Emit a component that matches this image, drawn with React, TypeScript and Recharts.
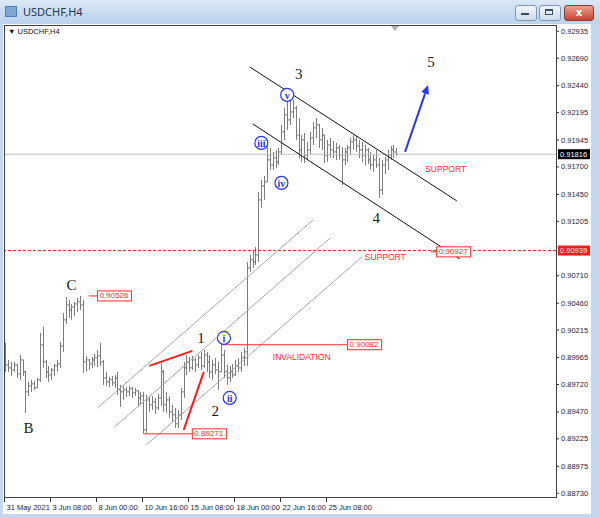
import React from "react";
import { ComposedChart, Bar, XAxis, YAxis, ReferenceLine, ReferenceDot } from "recharts";

// USDCHF H4 bars
const openPrices = [
  0.9008, 0.89898, 0.89871, 0.89853, 0.89898, 0.89816, 0.89944, 0.89835, 0.89653, 0.89707,
  0.89726, 0.89689, 0.89762, 0.9008, 0.89926, 0.89835, 0.89807, 0.89853, 0.89889, 0.89907,
  0.90071, 0.90308, 0.90444, 0.90399, 0.90426, 0.90453, 0.90472, 0.90444, 0.89926, 0.89944,
  0.89907, 0.89944, 0.89962, 0.8998, 0.89926, 0.8978, 0.89744, 0.89762, 0.89735, 0.8978,
  0.89671, 0.89653, 0.89671, 0.89653, 0.8968, 0.89644, 0.89662, 0.89598, 0.89616, 0.89307,
  0.8958, 0.89535, 0.89562, 0.89507, 0.89598, 0.89835, 0.89535, 0.8958, 0.89471, 0.89444,
  0.89362, 0.89444, 0.89653, 0.89871, 0.89926, 0.89871, 0.89944, 0.89898, 0.89962, 0.89889,
  0.89989, 0.89926, 0.89835, 0.89898, 0.89853, 0.89835, 0.89989, 0.89835, 0.8978, 0.89835,
  0.89807, 0.89889, 0.89871, 0.89962, 0.90017, 0.90781, 0.90854, 0.90836, 0.90899, 0.914,
  0.91527, 0.91564, 0.91764, 0.91718, 0.91782, 0.91746, 0.91837, 0.92019, 0.92173, 0.92128,
  0.92201, 0.92237, 0.91991, 0.91855, 0.91946, 0.91809, 0.91855, 0.91964, 0.92055, 0.92082,
  0.91946, 0.91991, 0.91809, 0.919, 0.91855, 0.91837, 0.91873, 0.91809, 0.91764, 0.91837,
  0.91873, 0.91928, 0.91946, 0.91891, 0.91855, 0.91809, 0.91855, 0.91764, 0.91718, 0.91764,
  0.91718, 0.91491, 0.91718, 0.91764, 0.91809, 0.91855, 0.91837,
];
const highPrices = [
  0.90099, 0.89944, 0.89926, 0.89926, 0.89907, 0.89989, 0.89944, 0.89844, 0.89744, 0.89762,
  0.89753, 0.8978, 0.9019, 0.90244, 0.89944, 0.89889, 0.89871, 0.89907, 0.89944, 0.90108,
  0.90372, 0.90517, 0.9049, 0.90453, 0.90472, 0.90508, 0.90526, 0.9049, 0.8998, 0.89953,
  0.89971, 0.89998, 0.90035, 0.90099, 0.89944, 0.89835, 0.89789, 0.89798, 0.89807, 0.89835,
  0.89716, 0.89707, 0.89698, 0.89707, 0.89698, 0.89689, 0.89671, 0.89653, 0.89653, 0.89625,
  0.89607, 0.89616, 0.89598, 0.89634, 0.89917, 0.89853, 0.89653, 0.89616, 0.89535, 0.89507,
  0.89489, 0.89689, 0.89926, 0.89989, 0.89971, 0.8998, 0.89962, 0.89989, 0.90017, 0.90035,
  0.90017, 0.89989, 0.89944, 0.89962, 0.89926, 0.90082, 0.90035, 0.89898, 0.89889, 0.89907,
  0.89944, 0.89962, 0.90017, 0.90053, 0.90836, 0.90899, 0.90945, 0.90972, 0.91473, 0.91582,
  0.91618, 0.91882, 0.91873, 0.91837, 0.91855, 0.91873, 0.92082, 0.92237, 0.92292, 0.92328,
  0.9231, 0.92255, 0.92146, 0.91991, 0.92009, 0.91928, 0.92019, 0.9211, 0.92146, 0.92091,
  0.92055, 0.91991, 0.91946, 0.91964, 0.91937, 0.91918, 0.919, 0.91882, 0.91873, 0.919,
  0.91964, 0.91991, 0.91982, 0.91946, 0.91928, 0.919, 0.91873, 0.91837, 0.91809, 0.91855,
  0.91782, 0.91764, 0.91791, 0.91855, 0.91891, 0.919, 0.91873,
];
const lowPrices = [
  0.89835, 0.89835, 0.89798, 0.89835, 0.8978, 0.89762, 0.89798, 0.89462, 0.89616, 0.89653,
  0.89671, 0.89689, 0.89744, 0.89871, 0.8978, 0.89744, 0.89762, 0.89798, 0.89835, 0.89871,
  0.90017, 0.90271, 0.90326, 0.90308, 0.90344, 0.90381, 0.90399, 0.89826, 0.89835, 0.89853,
  0.89871, 0.89889, 0.8988, 0.89889, 0.89716, 0.89707, 0.89698, 0.89707, 0.89689, 0.89625,
  0.89516, 0.8958, 0.89607, 0.89616, 0.89598, 0.89616, 0.89516, 0.89535, 0.89271, 0.89279,
  0.89471, 0.89489, 0.89453, 0.89489, 0.89526, 0.89471, 0.89462, 0.89416, 0.8938, 0.89325,
  0.89325, 0.89398, 0.89598, 0.89807, 0.89835, 0.89853, 0.89835, 0.89871, 0.89853, 0.89871,
  0.89835, 0.8978, 0.89762, 0.89816, 0.89671, 0.89835, 0.8978, 0.89716, 0.89744, 0.8978,
  0.89798, 0.89835, 0.89835, 0.89889, 0.89889, 0.90745, 0.90781, 0.90808, 0.90836, 0.91327,
  0.914, 0.91564, 0.91673, 0.91673, 0.91691, 0.91718, 0.91809, 0.91946, 0.92037, 0.92082,
  0.92146, 0.91946, 0.91782, 0.91746, 0.91736, 0.91764, 0.91809, 0.919, 0.91964, 0.91873,
  0.91855, 0.91736, 0.91746, 0.91791, 0.91782, 0.91764, 0.91764, 0.91536, 0.91718, 0.91746,
  0.91809, 0.91855, 0.91837, 0.91782, 0.91746, 0.91718, 0.91727, 0.91673, 0.91655, 0.91691,
  0.91418, 0.91445, 0.91636, 0.91673, 0.91764, 0.91782, 0.918,
];
const closePrices = [
  0.89898, 0.89871, 0.89853, 0.89898, 0.89816, 0.89944, 0.89835, 0.89653, 0.89707, 0.89726,
  0.89689, 0.89762, 0.9008, 0.89926, 0.89835, 0.89807, 0.89853, 0.89889, 0.89907, 0.90071,
  0.90308, 0.90444, 0.90399, 0.90426, 0.90453, 0.90472, 0.90444, 0.89926, 0.89944, 0.89907,
  0.89944, 0.89962, 0.8998, 0.89926, 0.8978, 0.89744, 0.89762, 0.89735, 0.8978, 0.89671,
  0.89653, 0.89671, 0.89653, 0.8968, 0.89644, 0.89662, 0.89598, 0.89616, 0.89307, 0.8958,
  0.89535, 0.89562, 0.89507, 0.89598, 0.89835, 0.89535, 0.8958, 0.89471, 0.89444, 0.89362,
  0.89444, 0.89653, 0.89871, 0.89926, 0.89871, 0.89944, 0.89898, 0.89962, 0.89889, 0.89989,
  0.89926, 0.89835, 0.89898, 0.89853, 0.89835, 0.89989, 0.89835, 0.8978, 0.89835, 0.89807,
  0.89889, 0.89871, 0.89962, 0.90017, 0.90781, 0.90854, 0.90836, 0.90899, 0.914, 0.91527,
  0.91564, 0.91764, 0.91718, 0.91782, 0.91746, 0.91837, 0.92019, 0.92173, 0.92128, 0.92201,
  0.92237, 0.91991, 0.91855, 0.91946, 0.91809, 0.91855, 0.91964, 0.92055, 0.92082, 0.91946,
  0.91991, 0.91809, 0.919, 0.91855, 0.91837, 0.91873, 0.91809, 0.91764, 0.91837, 0.91873,
  0.91928, 0.91946, 0.91891, 0.91855, 0.91809, 0.91855, 0.91764, 0.91718, 0.91764, 0.91718,
  0.91491, 0.91718, 0.91764, 0.91809, 0.91855, 0.91837, 0.91816,
];

const slotCount = 192; // bars plus the empty shift space on the right
const xTickBars = [0, 16, 32, 48, 64, 80, 96, 112];
const xTickLabels = [
  "31 May 2021", "3 Jun 08:00", "8 Jun 00:00", "10 Jun 16:00",
  "15 Jun 08:00", "18 Jun 00:00", "22 Jun 16:00", "25 Jun 08:00",
];
const bidPrice = 0.91816;
const supportPrice = 0.90939;
const yTicks = [
  0.92935, 0.9269, 0.9244, 0.92195, 0.91945, bidPrice, 0.917, 0.9145, 0.91205, supportPrice,
  0.9071, 0.9046, 0.90215, 0.89965, 0.8972, 0.8947, 0.89225, 0.88975, 0.8873,
];

// trendlines: [fromBar, fromPrice, toBar, toPrice]
const fallingChannel = [
  [85, 0.9261, 157, 0.91391],
  [86, 0.92092, 158, 0.90863],
];
const risingChannel = [
  [32, 0.89507, 107, 0.91218],
  [38, 0.89334, 113, 0.91054],
  [49, 0.8917, 124, 0.90881],
];
const redStrokes = [
  [50, 0.89889, 65, 0.90026],
  [62, 0.89307, 69, 0.89835],
];
const wave5Arrow = [139, 0.91837, 147, 0.92447];

const priceTags = [
  { from: 29, to: 32, price: 0.90526, text: "0.90526" },
  { from: 48, to: 65, price: 0.89271, text: "0.89271" },
  { from: 75, to: 119, price: 0.90082, text: "0.90082" },
  { from: 148, to: 150, price: 0.90927, text: "0.90927" },
];
const waveLabels = [
  { bar: 8, price: 0.89325, text: "B" },
  { bar: 23, price: 0.90627, text: "C" },
  { bar: 68, price: 0.90144, text: "1" },
  { bar: 73, price: 0.8948, text: "2" },
  { bar: 102, price: 0.92547, text: "3" },
  { bar: 129, price: 0.91236, text: "4" },
  { bar: 148, price: 0.92656, text: "5" },
];
const circledLabels = [
  { bar: 76, price: 0.90144, text: "i" },
  { bar: 78, price: 0.89598, text: "ii" },
  { bar: 89, price: 0.91919, text: "iii" },
  { bar: 96, price: 0.91555, text: "iv" },
  { bar: 98, price: 0.92356, text: "v" },
];
const redNotes = [
  { bar: 146, price: 0.91682, text: "SUPPORT" },
  { bar: 125, price: 0.90881, text: "SUPPORT" },
  { bar: 93, price: 0.89971, text: "INVALIDATION" },
];

const rows = Array.from({ length: slotCount }, (_, i) => ({
  idx: i,
  open: openPrices[i],
  high: highPrices[i],
  low: lowPrices[i],
  close: closePrices[i],
}));

const AXIS_FONT = "'Liberation Sans', Arial, sans-serif";
const RED = "#ff2a2a";
const BLUE = "#2a36f0";

function OhlcBar(props: any) {
  const { x, y, width, height, payload } = props;
  if (!payload || payload.high == null || !height) return null;
  const cx = Math.round(x + width / 2) + 0.5;
  const toY = (p: number) => y + ((payload.high - p) / (payload.high - payload.low)) * height;
  const yo = toY(payload.open);
  const yc = toY(payload.close);
  return (
    <g stroke="#7d7d7d" strokeWidth={1}>
      <line x1={cx} x2={cx} y1={y} y2={y + height} />
      <line x1={cx - 1.5} x2={cx} y1={yo} y2={yo} />
      <line x1={cx} x2={cx + 1.5} y1={yc} y2={yc} />
    </g>
  );
}

function XTick(props: any) {
  const { x, payload } = props;
  const k = xTickBars.indexOf(payload.value);
  const left = Math.round(x - 1.4) + 0.5;
  return (
    <g>
      <line x1={left} x2={left} y1={497} y2={502} stroke="#333" />
      <text x={left + 2} y={510} fontSize={7.5} fill="#1c1c38" fontFamily={AXIS_FONT}>
        {xTickLabels[k]}
      </text>
    </g>
  );
}

function YTick(props: any) {
  const { y, payload } = props;
  const v = payload.value;
  const label = v.toFixed(5);
  if (v === bidPrice || v === supportPrice) {
    return (
      <g>
        <rect x={558} y={y - 5} width={32} height={10} fill={v === bidPrice ? "#000" : "#ff1a1a"} />
        <text x={560} y={y} dominantBaseline="central" fontSize={7.5} fill="#fff" fontFamily={AXIS_FONT}>
          {label}
        </text>
      </g>
    );
  }
  return (
    <g>
      <line x1={556} x2={559} y1={y} y2={y} stroke="#333" />
      <text x={561} y={y} dominantBaseline="central" fontSize={7.5} fill="#1c1c38" fontFamily={AXIS_FONT}>
        {label}
      </text>
    </g>
  );
}

function ArrowLine(p: any) {
  const { x1, y1, x2, y2 } = p;
  const ang = Math.atan2(y2 - y1, x2 - x1);
  const bx = x2 - 9 * Math.cos(ang);
  const by = y2 - 9 * Math.sin(ang);
  const px = -Math.sin(ang) * 4;
  const py = Math.cos(ang) * 4;
  return (
    <g>
      <line x1={x1} y1={y1} x2={bx} y2={by} stroke={BLUE} strokeWidth={2} />
      <polygon points={`${x2},${y2} ${bx + px},${by + py} ${bx - px},${by - py}`} fill={BLUE} />
    </g>
  );
}

export default function App() {
  return (
    <div style={{ position: "absolute", left: 0, top: 0, width: 600, height: 518, background: "#c4d7ee", overflow: "hidden" }}>
      {/* window title bar */}
      <div style={{ position: "absolute", left: 0, top: 0, width: 600, height: 24, background: "linear-gradient(#dbe8f6, #bcd2ec)" }} />
      <div style={{ position: "absolute", left: 5, top: 6, width: 12, height: 11, background: "#7fa7d6", border: "1px solid #4f7fb8", boxSizing: "border-box" }} />
      <div style={{ position: "absolute", left: 23, top: 4, fontFamily: "'Noto Sans', sans-serif", fontSize: 11, color: "#1e3553" }}>USDCHF,H4</div>
      <div style={{ position: "absolute", left: 515, top: 5, width: 20, height: 14, borderRadius: 3, border: "1px solid #7f98b8", background: "linear-gradient(#f2f6fb, #cfdcec)" }} />
      <div style={{ position: "absolute", left: 521, top: 13, width: 8, height: 2, background: "#3a4d66" }} />
      <div style={{ position: "absolute", left: 539, top: 5, width: 20, height: 14, borderRadius: 3, border: "1px solid #7f98b8", background: "linear-gradient(#f2f6fb, #cfdcec)" }} />
      <div style={{ position: "absolute", left: 545, top: 9, width: 8, height: 6, border: "1px solid #3a4d66", borderTopWidth: 2, boxSizing: "border-box" }} />
      <div style={{ position: "absolute", left: 564, top: 5, width: 28, height: 14, borderRadius: 3, border: "1px solid #8d3a32", background: "linear-gradient(#e8a293, #c7422f)", color: "#fff", fontFamily: "'DejaVu Sans', sans-serif", fontSize: 10, fontWeight: "bold", textAlign: "center", lineHeight: "14px" }}>x</div>
      {/* chart window */}
      <div style={{ position: "absolute", left: 3, top: 24, width: 588, height: 490, background: "#fff" }} />
      <div style={{ position: "absolute", left: 0, top: 0 }}>
        <ComposedChart width={600} height={518} data={rows} margin={{ top: 25, right: 0, bottom: 0, left: 4 }}>
          <XAxis dataKey="idx" type="category" height={21} ticks={xTickBars} interval={0} tick={<XTick />} tickLine={false} axisLine={false} />
          <YAxis
            orientation="right"
            width={44}
            type="number"
            domain={[0.88696, 0.92992]}
            allowDataOverflow
            ticks={yTicks}
            interval={0}
            tick={<YTick />}
            tickLine={false}
            axisLine={false}
          />
          <ReferenceLine y={bidPrice} stroke="#c0c0c0" />
          <ReferenceLine y={supportPrice} stroke="#ff1a1a" strokeDasharray="3 2" />
          {risingChannel.map((s, i) => (
            <ReferenceLine key={"r" + i} segment={[{ x: s[0], y: s[1] }, { x: s[2], y: s[3] }]} stroke="#a8a8a8" ifOverflow="visible" />
          ))}
          {fallingChannel.map((s, i) => (
            <ReferenceLine key={"f" + i} segment={[{ x: s[0], y: s[1] }, { x: s[2], y: s[3] }]} stroke="#111" ifOverflow="visible" />
          ))}
          {redStrokes.map((s, i) => (
            <ReferenceLine key={"s" + i} segment={[{ x: s[0], y: s[1] }, { x: s[2], y: s[3] }]} stroke="#ff1a1a" strokeWidth={2} ifOverflow="visible" />
          ))}
          {priceTags.map((t, i) => (
            <ReferenceLine key={"t" + i} segment={[{ x: t.from, y: t.price }, { x: t.to, y: t.price }]} stroke={RED} ifOverflow="visible" />
          ))}
          <Bar dataKey={(d: any) => (d.high == null ? null : [d.low, d.high])} shape={<OhlcBar />} isAnimationActive={false} />
          <ReferenceLine
            segment={[{ x: wave5Arrow[0], y: wave5Arrow[1] }, { x: wave5Arrow[2], y: wave5Arrow[3] }]}
            shape={(p: any) => <ArrowLine {...p} />}
            ifOverflow="visible"
          />
          {priceTags.map((t, i) => (
            <ReferenceDot
              key={"tb" + i}
              x={t.to}
              y={t.price}
              r={0}
              ifOverflow="visible"
              shape={(p: any) => (
                <g>
                  <rect x={p.cx} y={p.cy - 5} width={34} height={10} fill="#fff" stroke={RED} />
                  <text x={p.cx + 2} y={p.cy} dominantBaseline="central" fontSize={8} fill={RED} fontFamily={AXIS_FONT}>
                    {t.text}
                  </text>
                </g>
              )}
            />
          ))}
          {redNotes.map((t, i) => (
            <ReferenceDot
              key={"n" + i}
              x={t.bar}
              y={t.price}
              r={0}
              ifOverflow="visible"
              shape={(p: any) => (
                <text x={p.cx} y={p.cy} dominantBaseline="central" fontSize={8.5} fill={RED} fontFamily={AXIS_FONT}>
                  {t.text}
                </text>
              )}
            />
          ))}
          {waveLabels.map((t, i) => (
            <ReferenceDot
              key={"w" + i}
              x={t.bar}
              y={t.price}
              r={0}
              ifOverflow="visible"
              shape={(p: any) => (
                <text x={p.cx} y={p.cy} textAnchor="middle" dominantBaseline="central" fontSize={15} fill="#1a1a1a" fontFamily="'Liberation Serif', serif">
                  {t.text}
                </text>
              )}
            />
          ))}
          {circledLabels.map((t, i) => (
            <ReferenceDot
              key={"c" + i}
              x={t.bar}
              y={t.price}
              r={0}
              ifOverflow="visible"
              shape={(p: any) => (
                <g>
                  <circle cx={p.cx} cy={p.cy} r={6.5} fill="#fff" stroke={BLUE} strokeWidth={1.2} />
                  <text x={p.cx} y={p.cy + 0.5} textAnchor="middle" dominantBaseline="central" fontSize={10} fontWeight="bold" fill={BLUE} fontFamily="'Liberation Serif', serif">
                    {t.text}
                  </text>
                </g>
              )}
            />
          ))}
        </ComposedChart>
      </div>
      {/* plot frame and chart caption */}
      <div style={{ position: "absolute", left: 4, top: 25, width: 553, height: 473, border: "1px solid #444", boxSizing: "border-box", pointerEvents: "none" }} />
      <div style={{ position: "absolute", left: 8, top: 27, fontFamily: AXIS_FONT, fontSize: 7.5, color: "#111" }}>▼ USDCHF,H4</div>
      <div style={{ position: "absolute", left: 391, top: 26, width: 0, height: 0, borderLeft: "4px solid transparent", borderRight: "4px solid transparent", borderTop: "5px solid #b0b0b0" }} />
    </div>
  );
}
